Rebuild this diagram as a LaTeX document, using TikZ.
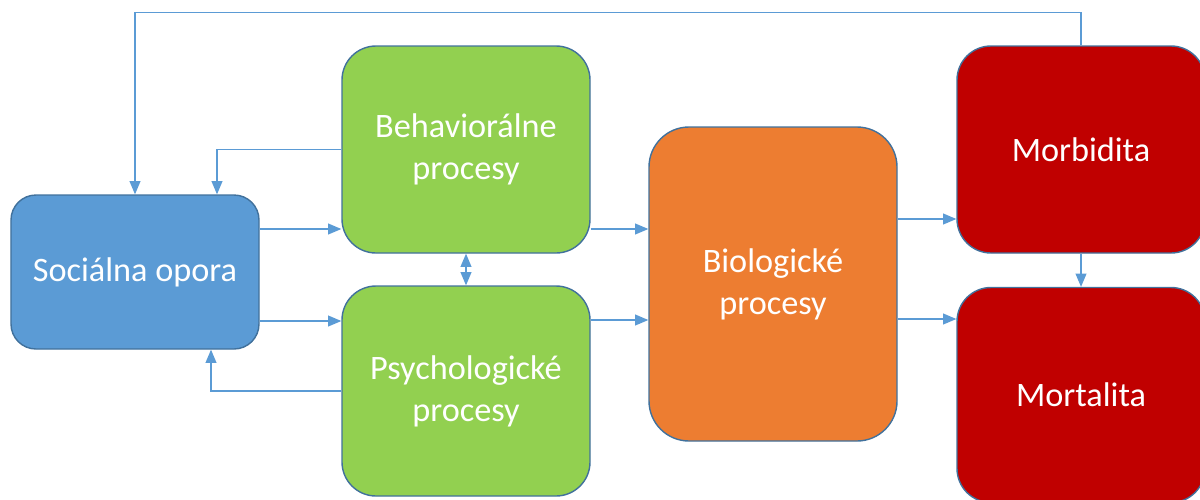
\documentclass[tikz,border=0pt]{standalone}
\usepackage{fontspec}
\setmainfont{Carlito}
\usepackage{tikz}
\usepackage{color}
\usetikzlibrary{arrows,shapes}

\definecolor{linkblue}{HTML}{5B9BD5}
\definecolor{edgeblue}{HTML}{41719C}
\definecolor{socblue}{HTML}{5B9BD5}
\definecolor{procgreen}{HTML}{92D050}
\definecolor{bioorange}{HTML}{ED7D31}
\definecolor{outred}{HTML}{C00000}

\tikzset{
	factor/.style={rectangle, draw=edgeblue, line width=0.8pt, text=white, align=center,
		minimum width=4.96cm, inner sep=0pt, font=\fontsize{19.5}{24}\selectfont},
	link/.style={draw=linkblue, line width=0.7pt, ->, >=triangle 45},
}

\begin{document}
\begin{tikzpicture}
		\useasboundingbox (0,0) rectangle (24,-9.98);

		\node[factor, fill=socblue, minimum height=3.08cm, rounded corners=0.5cm] (social) at (2.70,-5.44) {Sociálna opora};
		\node[factor, fill=procgreen, minimum height=4.14cm, rounded corners=0.68cm] (behav) at (9.32,-2.99) {Behaviorálne\\procesy};
		\node[factor, fill=procgreen, minimum height=4.20cm, rounded corners=0.68cm] (psych) at (9.32,-7.82) {Psychologické\\procesy};
		\node[factor, fill=bioorange, minimum height=6.28cm, rounded corners=0.8cm] (bio) at (15.46,-5.68) {Biologické\\procesy};
		\node[factor, fill=outred, minimum height=4.14cm, rounded corners=0.68cm] (morb) at (21.62,-2.99) {Morbidita};
		\node[factor, fill=outred, minimum height=4.30cm, rounded corners=0.68cm] (mort) at (21.62,-7.90) {Mortalita};

		% feedback loops back to the social support box
		\draw[link] (morb.north) -- ++(0,0.66) -| (social.north);
		\draw[link] (behav.west) -| ([xshift=1.64cm]social.north);
		\draw[link] (psych.west) -| ([xshift=1.52cm]social.south);

		\draw[link] ([yshift=0.86cm]social.east) -- ([yshift=0.86cm]social.east -| behav.west);
		\draw[link] ([yshift=-0.98cm]social.east) -- ([yshift=-0.98cm]social.east -| psych.west);
		\draw[link, <->] (behav.south) -- (psych.north);

		\draw[link] ([yshift=-1.59cm]behav.east) -- ([yshift=-1.59cm]behav.east -| bio.west);
		\draw[link] ([yshift=1.42cm]psych.east) -- ([yshift=1.42cm]psych.east -| bio.west);

		\draw[link] ([yshift=1.30cm]bio.east) -- ([yshift=1.30cm]bio.east -| morb.west);
		\draw[link] ([yshift=-0.70cm]bio.east) -- ([yshift=-0.70cm]bio.east -| mort.west);
		\draw[link] (morb.south) -- (mort.north);
	\end{tikzpicture}
\end{document}
